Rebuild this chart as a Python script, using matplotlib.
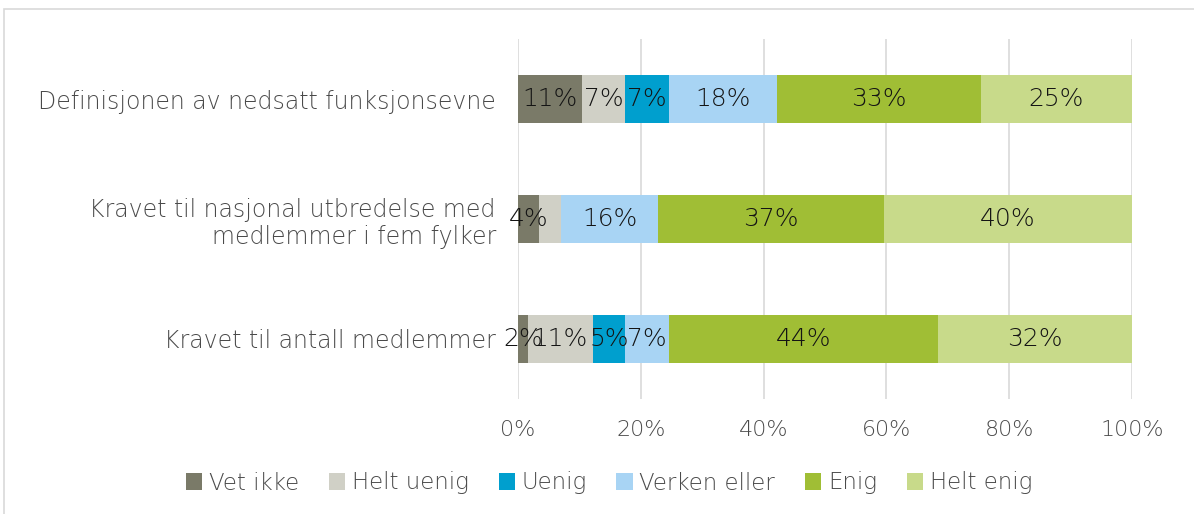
import matplotlib
matplotlib.use("Agg")
import matplotlib.pyplot as plt
from matplotlib.patches import Rectangle
import numpy as np

plt.rcParams['font.family'] = ['DejaVu Sans']

categories = ["Definisjonen av nedsatt funksjonsevne",
              "Kravet til nasjonal utbredelse med\nmedlemmer i fem fylker",
              "Kravet til antall medlemmer"]
series = ["Vet ikke", "Helt uenig", "Uenig", "Verken eller", "Enig", "Helt enig"]
colors = ["#7A7A68", "#D0D0C6", "#009FCE", "#A8D4F4", "#A0BE35", "#C8DA8A"]

vet_ikke   = [10.4, 3.4, 1.6]
helt_uenig = [7.0, 3.6, 10.6]
uenig      = [7.2, 0.0, 5.2]
verken     = [17.6, 15.8, 7.2]
enig       = [33.2, 36.8, 43.8]
helt_enig  = [24.6, 40.4, 31.6]

lbl_vet_ikke   = ["11%", "4%", "2%"]
lbl_helt_uenig = ["7%", "", "11%"]
lbl_uenig      = ["7%", "", "5%"]
lbl_verken     = ["18%", "16%", "7%"]
lbl_enig       = ["33%", "37%", "44%"]
lbl_helt_enig  = ["25%", "40%", "32%"]

values = [vet_ikke, helt_uenig, uenig, verken, enig, helt_enig]
labels = [lbl_vet_ikke, lbl_helt_uenig, lbl_uenig, lbl_verken, lbl_enig, lbl_helt_enig]

W = "light"
TXT = "#4a4a4a"

fig = plt.figure(figsize=(11.94, 5.14), dpi=100)
fig.add_artist(Rectangle((4/1194, -0.05), 1.1, (514-9)/514 + 0.05, transform=fig.transFigure,
                         fill=False, edgecolor="#D9D9D9", linewidth=1.2))
ax = fig.add_axes([518/1194, (514-399)/514, 614/1194, 360/514])

y = np.arange(len(categories))
left = np.zeros(len(categories))
for vals, lbls, col, name in zip(values, labels, colors, series):
    vals = np.array(vals)
    ax.barh(y, vals, left=left, height=0.4, color=col, label=name, zorder=3)
    for i, (v, t) in enumerate(zip(vals, lbls)):
        if t:
            ax.text(left[i] + v/2, y[i], t, ha="center", va="center",
                    fontsize=18, color="#141414", zorder=4, fontweight=W)
    left += vals

ax.set_xlim(0, 100)
ax.set_ylim(2.5, -0.5)
ax.set_xticks(np.arange(0, 101, 20))
ax.set_xticklabels([f"{v}%" for v in range(0, 101, 20)])
ax.set_yticks(y)
ax.set_yticklabels(categories)
ax.tick_params(axis="both", length=0, labelcolor=TXT)
ax.tick_params(axis="x", pad=15, labelsize=16)
ax.tick_params(axis="y", pad=16, labelsize=17)
for lab in ax.get_yticklabels():
    lab.set_ha("right")
    lab.set_multialignment("right")
for lab in ax.get_xticklabels() + ax.get_yticklabels():
    lab.set_fontweight(W)
ax.grid(axis="x", color="#D9D9D9", linewidth=1.2, zorder=0)
for s in ax.spines.values():
    s.set_visible(False)

leg = fig.legend(loc="center", bbox_to_anchor=(609/1194, 1 - 483/514), ncol=6, frameon=False,
                 prop={"size": 16.5, "weight": W}, handlelength=0.7, handleheight=0.7,
                 handletextpad=0.3, columnspacing=1.3, labelcolor=TXT)

fig.savefig("out.png", dpi=100)
